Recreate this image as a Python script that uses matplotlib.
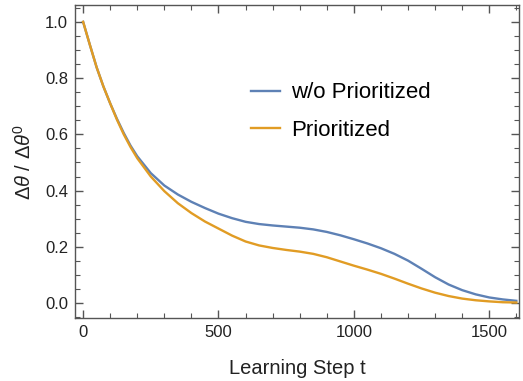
import matplotlib
matplotlib.use("Agg")
import matplotlib.pyplot as plt
from matplotlib.ticker import MultipleLocator

plt.rcParams['font.family'] = ['Liberation Sans', 'DejaVu Sans']
plt.rcParams['mathtext.fontset'] = 'custom'
plt.rcParams['mathtext.rm'] = 'Liberation Sans'
plt.rcParams['mathtext.it'] = 'Liberation Sans:italic'

# values
steps = [0, 25, 50, 75, 100, 125, 150, 175, 200, 250, 300, 350, 400, 450, 500,
         550, 600, 650, 700, 750, 800, 850, 900, 950, 1000, 1050, 1100, 1150,
         1200, 1250, 1300, 1350, 1400, 1450, 1500, 1550, 1600]
wo_prioritized = [1.0, 0.918, 0.838, 0.77, 0.71, 0.655, 0.605, 0.56, 0.522,
                  0.462, 0.418, 0.386, 0.36, 0.338, 0.318, 0.302, 0.289, 0.281,
                  0.276, 0.272, 0.268, 0.262, 0.253, 0.241, 0.227, 0.212, 0.195,
                  0.175, 0.151, 0.122, 0.092, 0.066, 0.046, 0.031, 0.02, 0.013,
                  0.008]
prioritized = [1.0, 0.918, 0.838, 0.77, 0.71, 0.652, 0.6, 0.555, 0.515, 0.45,
               0.398, 0.355, 0.32, 0.29, 0.265, 0.24, 0.219, 0.205, 0.196, 0.189,
               0.183, 0.175, 0.163, 0.148, 0.133, 0.119, 0.104, 0.087, 0.069,
               0.052, 0.037, 0.025, 0.016, 0.01, 0.006, 0.003, 0.002]

blue = '#5E81B5'
orange = '#E19C24'
frame = '#555555'

fig = plt.figure(figsize=(5.23, 3.81), dpi=100)
ax = fig.add_axes([0.1434, 0.1654, 0.849, 0.8215])

ax.plot(steps, wo_prioritized, color=blue, lw=1.7, label='w/o Prioritized')
ax.plot(steps, prioritized, color=orange, lw=1.7, label='Prioritized')

ax.set_xlim(-30, 1610)
ax.set_ylim(-0.053, 1.06)
ax.xaxis.set_major_locator(MultipleLocator(500))
ax.xaxis.set_minor_locator(MultipleLocator(100))
ax.yaxis.set_major_locator(MultipleLocator(0.2))
ax.yaxis.set_minor_locator(MultipleLocator(0.05))
ax.yaxis.set_major_formatter(plt.FuncFormatter(lambda v, p: '%.1f' % v))

for s in ax.spines.values():
    s.set_color(frame)
    s.set_linewidth(1.0)
ax.tick_params(which='both', direction='in', top=True, right=True,
               color=frame, labelcolor='#222222', labelsize=12)
ax.tick_params(which='major', length=6, width=1.0, pad=5)
ax.tick_params(which='minor', length=3.5, width=0.8)

ax.set_xlabel('Learning Step t', fontsize=14.5, color='#222222', labelpad=14)
ax.set_ylabel(r'$\Delta\theta\ /\ \Delta\theta^0$', fontsize=14.5,
              color='#222222', labelpad=7)

ax.legend(frameon=False, loc='center left', bbox_to_anchor=(0.396, 0.659),
          borderpad=0, borderaxespad=0, fontsize=16, handlelength=1.3,
          handletextpad=0.5, labelspacing=0.75)

fig.savefig('out.png', dpi=100)
